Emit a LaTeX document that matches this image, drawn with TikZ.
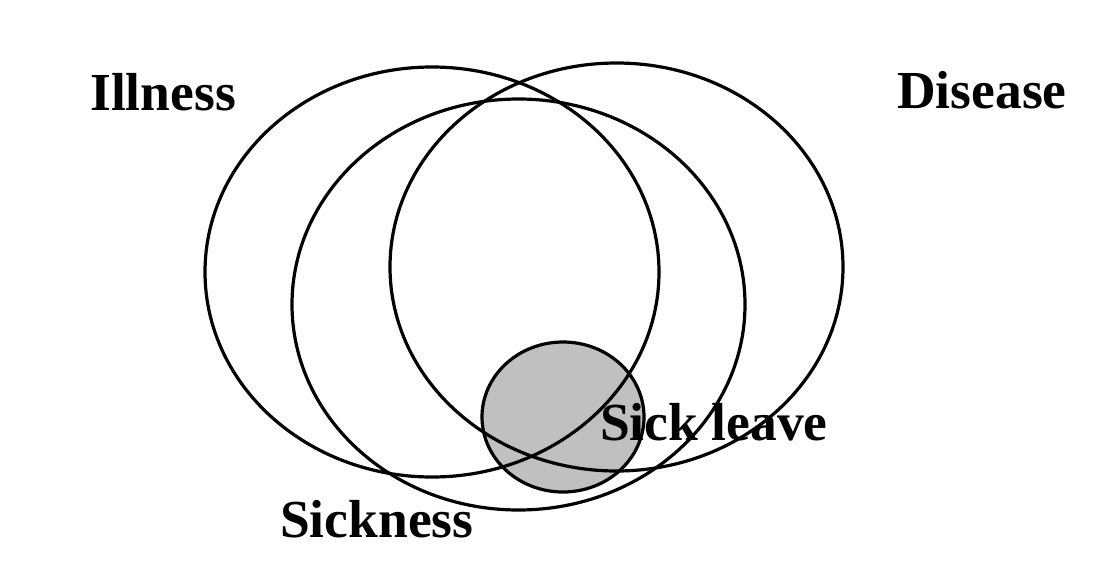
\documentclass[tikz,border=0pt]{standalone}
\usepackage{fontspec}
\setmainfont{Liberation Serif}
\definecolor{leavegray}{HTML}{C0C0C0}
\tikzset{
  ring/.style={draw=black, line width=3.2pt},
  lbl/.style={anchor=base west, inner sep=0pt, font=\fontsize{53.5}{62}\selectfont\bfseries}
}
\begin{document}
\begin{tikzpicture}[x=1pt,y=-1pt]
\useasboundingbox (0,0) rectangle (1118,568);
\fill[white] (0,0) rectangle (1118,568);
% sick leave circle
\draw[ring, fill=leavegray] (563,417) ellipse [x radius=81, y radius=75];
% illness, disease, sickness
\draw[ring] (432,272) ellipse [x radius=227, y radius=205];
\draw[ring] (616.5,267) ellipse [x radius=226.5, y radius=204];
\draw[ring] (518.5,304.5) ellipse [x radius=226.5, y radius=205.5];
% labels
\node[lbl] (illness) at (90,110) {Illness};
\node[lbl] (disease) at (897,108) {Disease};
\node[lbl] (sickness) at (280,537) {Sickness};
\node[lbl] (sickleave) at (600,440) {Sick leave};
\end{tikzpicture}
\end{document}
